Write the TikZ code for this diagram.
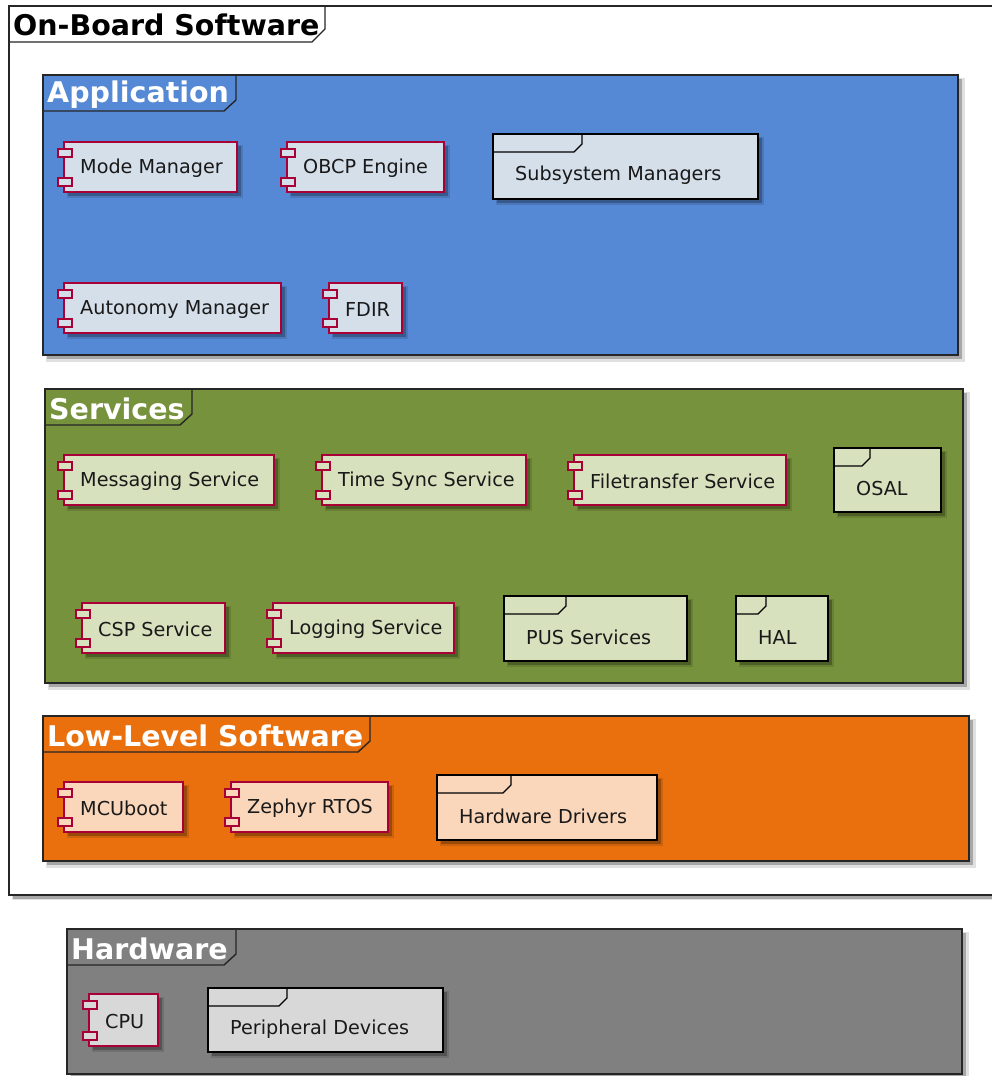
\documentclass[tikz,border=0pt]{standalone}
\usepackage{fontspec}
\setmainfont{DejaVu Sans}
\definecolor{appbg}{HTML}{5589D5}
\definecolor{svcbg}{HTML}{77923C}
\definecolor{llsbg}{HTML}{EA700E}
\definecolor{hwbg}{HTML}{808080}
\definecolor{appfg}{HTML}{D5DFEA}
\definecolor{svcfg}{HTML}{D8E1BE}
\definecolor{llsfg}{HTML}{FAD6BB}
\definecolor{hwfg}{HTML}{D8D8D8}
\definecolor{compline}{HTML}{A80036}
\tikzset{
  shadowc/.style={fill=black, opacity=0.25},
  shadowsoft/.style={fill=black, opacity=0.12},
  comp/.style={draw=compline, line width=1.2pt},
  folder/.style={draw=black, line width=1.3pt},
  pkg/.style={draw=black!85, line width=1.4pt},
  lbl/.style={font=\fontsize{19.2}{22}\selectfont, text=black!90, inner sep=0pt},
  ttl/.style={font=\fontsize{28.5}{31}\selectfont\bfseries, inner sep=0pt},
}
% component box: name, x1, y1, x2, y2, fill, label
\newcommand\umlcomp[7]{%
  \fill[shadowsoft] (#2+3,#3+3) rectangle (#4+6,#5+6);
  \fill[shadowc] (#2+4,#3+4) rectangle (#4+4,#5+4);
  \draw[comp, fill=#6] (#2,#3) rectangle (#4,#5);
  \draw[comp, fill=#6] (#2-6,#3+7) rectangle (#2+8,#3+15);
  \draw[comp, fill=#6] (#2-6,#5-14) rectangle (#2+8,#5-6);
  \node[lbl, anchor=west] (#1) at (#2+16,{(#3+#5)/2+1}) {#7};
}
% folder box: name, x1, y1, x2, y2, tab end, fill, label
\newcommand\umlfolder[8]{%
  \fill[shadowsoft] (#2+3,#3+3) rectangle (#4+6,#5+6);
  \fill[shadowc] (#2+4,#3+4) rectangle (#4+4,#5+4);
  \draw[folder, fill=#7] (#2,#3) rectangle (#4,#5);
  \draw[folder] (#2,#3+18) -- (#6-8,#3+18) -- (#6,#3+10) -- (#6,#3);
  \node[lbl, anchor=west] (#1) at (#2+22,{(#3+18+#5)/2}) {#8};
}
% package frame: name, x1, y1, x2, y2, tab end, fill, title, title colour
\newcommand\umlpkg[9]{%
  \fill[shadowsoft] (#2+3,#3+3) rectangle (#4+7,#5+7);
  \fill[shadowc] (#2+4,#3+4) rectangle (#4+4,#5+4);
  \draw[pkg, fill=#7] (#2,#3) rectangle (#4,#5);
  \draw[pkg] (#2,#3+36) -- (#6-12,#3+36) -- (#6,#3+25) -- (#6,#3);
  \node[ttl, text=#9, anchor=west] (#1) at (#2+4,#3+20) {#8};
}
\begin{document}
\begin{tikzpicture}[x=1pt,y=-1pt]
\useasboundingbox (0,0) rectangle (992,1076);
\fill[white] (0,0) rectangle (992,1076);

% outer frame
\fill[shadowsoft] (12,9) rectangle (1010,900);
\fill[shadowc] (13,10) rectangle (1010,899);
\draw[pkg, fill=white] (9,6) rectangle (1005,895);
\draw[pkg] (9,42) -- (312,42) -- (325,29) -- (325,6);
\node[ttl, text=black, anchor=west] (obsw) at (13,25) {On-Board Software};

% application layer
\umlpkg{app}{43}{75}{958}{355}{236}{appbg}{Application}{white}
\umlcomp{mode}{64}{142}{237}{192}{appfg}{Mode Manager}
\umlcomp{obcp}{287}{142}{444}{192}{appfg}{OBCP Engine}
\umlfolder{ssm}{493}{134}{758}{199}{582}{appfg}{Subsystem Managers}
\umlcomp{auto}{64}{283}{281}{333}{appfg}{Autonomy Manager}
\umlcomp{fdir}{329}{283}{402}{333}{appfg}{FDIR}

% services layer
\umlpkg{svc}{45}{389}{963}{683}{192}{svcbg}{Services}{white}
\umlcomp{msg}{64}{455}{274}{505}{svcfg}{Messaging Service}
\umlcomp{tsync}{322}{455}{526}{505}{svcfg}{Time Sync Service}
\umlcomp{ftx}{574}{455}{786}{505}{svcfg}{Filetransfer Service}
\umlfolder{osal}{834}{448}{941}{512}{870}{svcfg}{OSAL}
\umlcomp{csp}{82}{603}{225}{653}{svcfg}{CSP Service}
\umlcomp{log}{273}{603}{454}{653}{svcfg}{Logging Service}
\umlfolder{pus}{504}{596}{687}{661}{566}{svcfg}{PUS Services}
\umlfolder{hal}{736}{596}{828}{661}{766}{svcfg}{HAL}

% low-level software layer
\umlpkg{lls}{43}{716}{969}{861}{370}{llsbg}{Low-Level Software}{white}
\umlcomp{mcuboot}{64}{782}{183}{832}{llsfg}{MCUboot}
\umlcomp{zephyr}{231}{782}{388}{832}{llsfg}{Zephyr RTOS}
\umlfolder{drv}{437}{775}{657}{840}{511}{llsfg}{Hardware Drivers}

% hardware
\umlpkg{hw}{67}{929}{962}{1074}{236}{hwbg}{Hardware}{white}
\umlcomp{cpu}{89}{994}{158}{1046}{hwfg}{CPU}
\umlfolder{periph}{208}{988}{443}{1052}{287}{hwfg}{Peripheral Devices}
\end{tikzpicture}
\end{document}
